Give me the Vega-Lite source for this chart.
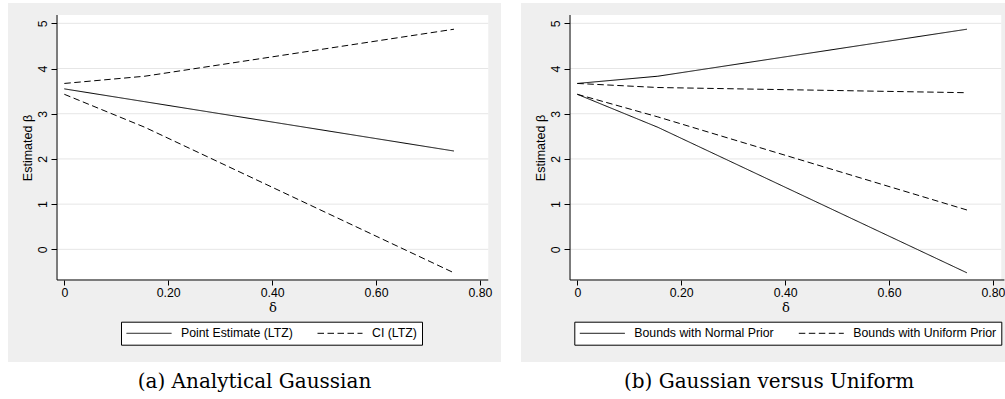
{
  "$schema": "https://vega.github.io/schema/vega-lite/v6.json",
  "background": "white",
  "padding": {"left": 8, "top": 3, "right": 0, "bottom": 0},
  "spacing": 20,
  "resolve": {"scale": {"strokeDash": "independent"}, "legend": {"strokeDash": "independent"}},
  "config": {
    "view": {"fill": "#efefef", "stroke": null},
    "axis": {"tickColor": "black", "labelColor": "black", "titleColor": "black", "labelFont": "Liberation Sans", "labelFontSize": 12.3, "titleFont": "Liberation Sans", "titleFontWeight": "normal", "labelFlush": false, "labelOverlap": false, "domain": false, "grid": false},
    "legend": {"orient": "none", "direction": "horizontal", "fillColor": "white", "strokeColor": "black", "padding": 5, "cornerRadius": 0, "symbolType": "M-1,0H6.5", "symbolSize": 144, "symbolStrokeColor": "black", "symbolStrokeWidth": 1, "labelFont": "Liberation Sans", "labelFontSize": 12.3, "labelColor": "black", "labelOffset": 42, "columnPadding": 22, "title": null}
  },
  "datasets": {
    "a": [
      {"series": "Point Estimate (LTZ)", "bound": "pe", "delta": 0, "beta": 3.55},
      {"series": "Point Estimate (LTZ)", "bound": "pe", "delta": 0.155, "beta": 3.266},
      {"series": "Point Estimate (LTZ)", "bound": "pe", "delta": 0.75, "beta": 2.175},
      {"series": "CI (LTZ)", "bound": "upper", "delta": 0, "beta": 3.67},
      {"series": "CI (LTZ)", "bound": "upper", "delta": 0.155, "beta": 3.83},
      {"series": "CI (LTZ)", "bound": "upper", "delta": 0.75, "beta": 4.87},
      {"series": "CI (LTZ)", "bound": "lower", "delta": 0, "beta": 3.43},
      {"series": "CI (LTZ)", "bound": "lower", "delta": 0.155, "beta": 2.70},
      {"series": "CI (LTZ)", "bound": "lower", "delta": 0.75, "beta": -0.52}
    ],
    "b": [
      {"series": "Bounds with Normal Prior", "bound": "nu", "delta": 0, "beta": 3.67},
      {"series": "Bounds with Normal Prior", "bound": "nu", "delta": 0.155, "beta": 3.83},
      {"series": "Bounds with Normal Prior", "bound": "nu", "delta": 0.75, "beta": 4.87},
      {"series": "Bounds with Normal Prior", "bound": "nl", "delta": 0, "beta": 3.43},
      {"series": "Bounds with Normal Prior", "bound": "nl", "delta": 0.155, "beta": 2.70},
      {"series": "Bounds with Normal Prior", "bound": "nl", "delta": 0.75, "beta": -0.52},
      {"series": "Bounds with Uniform Prior", "bound": "uu", "delta": 0, "beta": 3.67},
      {"series": "Bounds with Uniform Prior", "bound": "uu", "delta": 0.155, "beta": 3.58},
      {"series": "Bounds with Uniform Prior", "bound": "uu", "delta": 0.75, "beta": 3.465},
      {"series": "Bounds with Uniform Prior", "bound": "ul", "delta": 0, "beta": 3.43},
      {"series": "Bounds with Uniform Prior", "bound": "ul", "delta": 0.155, "beta": 2.93},
      {"series": "Bounds with Uniform Prior", "bound": "ul", "delta": 0.75, "beta": 0.87}
    ]
  },
  "hconcat": [
    {
      "width": 493,
      "height": 359,
      "title": {"text": "(a) Analytical Gaussian", "orient": "bottom", "anchor": "middle", "font": "DejaVu Serif", "fontSize": 20, "fontWeight": "normal", "color": "black", "offset": 10},
      "layer": [
        {
          "data": {"values": [{}]},
          "mark": {"type": "rect", "fill": "white"},
          "encoding": {
            "x": {"datum": -0.01405, "type": "quantitative", "scale": {"domain": [-0.1084, 0.8405], "nice": false, "zero": false},
              "axis": {"values": [0, 0.2, 0.4, 0.6, 0.8], "labelExpr": "datum.value == 0 ? '0' : format(datum.value, '.2f')", "offset": -82, "tickSize": 5, "labelPadding": 1.5, "title": "δ", "titleFont": "DejaVu Serif", "titleFontSize": 13, "titleX": 264.5, "titleY": 27, "titleAlign": "center", "titleBaseline": "middle"}},
            "x2": {"datum": 0.816},
            "y": {"datum": -0.6785, "type": "quantitative", "scale": {"domain": [-2.4927, 5.4498], "nice": false, "zero": false},
              "axis": {"values": [0, 1, 2, 3, 4, 5], "offset": -49, "tickSize": 6, "labelAngle": 270, "labelAlign": "center", "labelBaseline": "bottom", "labelPadding": 2, "title": "Estimated β", "titleFontSize": 12.5, "titleAngle": 270, "titleX": -30, "titleY": 144.5, "titleAlign": "center", "titleBaseline": "middle"}},
            "y2": {"datum": 5.184}
          }
        },
        {
          "data": {"values": [{"tick": 0}, {"tick": 1}, {"tick": 2}, {"tick": 3}, {"tick": 4}, {"tick": 5}]},
          "mark": {"type": "rule", "stroke": "#e6e6e6", "strokeWidth": 1},
          "encoding": {
            "x": {"datum": -0.01405, "type": "quantitative"},
            "x2": {"datum": 0.816},
            "y": {"field": "tick", "type": "quantitative"}
          }
        },
        {
          "data": {"values": [{}]},
          "mark": {"type": "rule", "stroke": "black", "strokeWidth": 1},
          "encoding": {
            "x": {"datum": -0.01405, "type": "quantitative"},
            "y": {"datum": -0.6785, "type": "quantitative"},
            "y2": {"datum": 5.184}
          }
        },
        {
          "data": {"values": [{}]},
          "mark": {"type": "rule", "stroke": "black", "strokeWidth": 1},
          "encoding": {
            "x": {"datum": -0.01405, "type": "quantitative"},
            "x2": {"datum": 0.816},
            "y": {"datum": -0.6785, "type": "quantitative"}
          }
        },
        {
          "data": {"name": "a"},
          "mark": {"type": "line", "stroke": "black", "strokeWidth": 1},
          "encoding": {
            "x": {"field": "delta", "type": "quantitative"},
            "y": {"field": "beta", "type": "quantitative"},
            "strokeDash": {"field": "series", "type": "nominal", "scale": {"domain": ["Point Estimate (LTZ)", "CI (LTZ)"], "range": [[1, 0], [6.5, 3.5]]},
              "legend": {"orient": "none", "legendX": 113, "legendY": 318.7}},
            "detail": {"field": "bound"}
          }
        }
      ]
    },
    {
      "width": 484,
      "height": 359,
      "title": {"text": "(b) Gaussian versus Uniform", "orient": "bottom", "anchor": "middle", "font": "DejaVu Serif", "fontSize": 20, "fontWeight": "normal", "color": "black", "offset": 10, "dx": 6},
      "layer": [
        {
          "data": {"values": [{}]},
          "mark": {"type": "rect", "fill": "white"},
          "encoding": {
            "x": {"datum": -0.01405, "type": "quantitative", "scale": {"domain": [-0.1084, 0.8232], "nice": false, "zero": false},
              "axis": {"values": [0, 0.2, 0.4, 0.6, 0.8], "labelExpr": "datum.value == 0 ? '0' : format(datum.value, '.2f')", "offset": -82, "tickSize": 5, "labelPadding": 1.5, "title": "δ", "titleFont": "DejaVu Serif", "titleFontSize": 13, "titleX": 264.5, "titleY": 27, "titleAlign": "center", "titleBaseline": "middle"}},
            "x2": {"datum": 0.816},
            "y": {"datum": -0.6785, "type": "quantitative", "scale": {"domain": [-2.4927, 5.4498], "nice": false, "zero": false},
              "axis": {"values": [0, 1, 2, 3, 4, 5], "offset": -49, "tickSize": 6, "labelAngle": 270, "labelAlign": "center", "labelBaseline": "bottom", "labelPadding": 2, "title": "Estimated β", "titleFontSize": 12.5, "titleAngle": 270, "titleX": -30, "titleY": 144.5, "titleAlign": "center", "titleBaseline": "middle"}},
            "y2": {"datum": 5.184}
          }
        },
        {
          "data": {"values": [{"tick": 0}, {"tick": 1}, {"tick": 2}, {"tick": 3}, {"tick": 4}, {"tick": 5}]},
          "mark": {"type": "rule", "stroke": "#e6e6e6", "strokeWidth": 1},
          "encoding": {
            "x": {"datum": -0.01405, "type": "quantitative"},
            "x2": {"datum": 0.816},
            "y": {"field": "tick", "type": "quantitative"}
          }
        },
        {
          "data": {"values": [{}]},
          "mark": {"type": "rule", "stroke": "black", "strokeWidth": 1},
          "encoding": {
            "x": {"datum": -0.01405, "type": "quantitative"},
            "y": {"datum": -0.6785, "type": "quantitative"},
            "y2": {"datum": 5.184}
          }
        },
        {
          "data": {"values": [{}]},
          "mark": {"type": "rule", "stroke": "black", "strokeWidth": 1},
          "encoding": {
            "x": {"datum": -0.01405, "type": "quantitative"},
            "x2": {"datum": 0.822},
            "y": {"datum": -0.6785, "type": "quantitative"}
          }
        },
        {
          "data": {"name": "b"},
          "mark": {"type": "line", "stroke": "black", "strokeWidth": 1},
          "encoding": {
            "x": {"field": "delta", "type": "quantitative"},
            "y": {"field": "beta", "type": "quantitative"},
            "strokeDash": {"field": "series", "type": "nominal", "scale": {"domain": ["Bounds with Normal Prior", "Bounds with Uniform Prior"], "range": [[1, 0], [6.5, 3.5]]},
              "legend": {"orient": "none", "legendX": 53.3, "legendY": 318.7}},
            "detail": {"field": "bound"}
          }
        }
      ]
    }
  ]
}
